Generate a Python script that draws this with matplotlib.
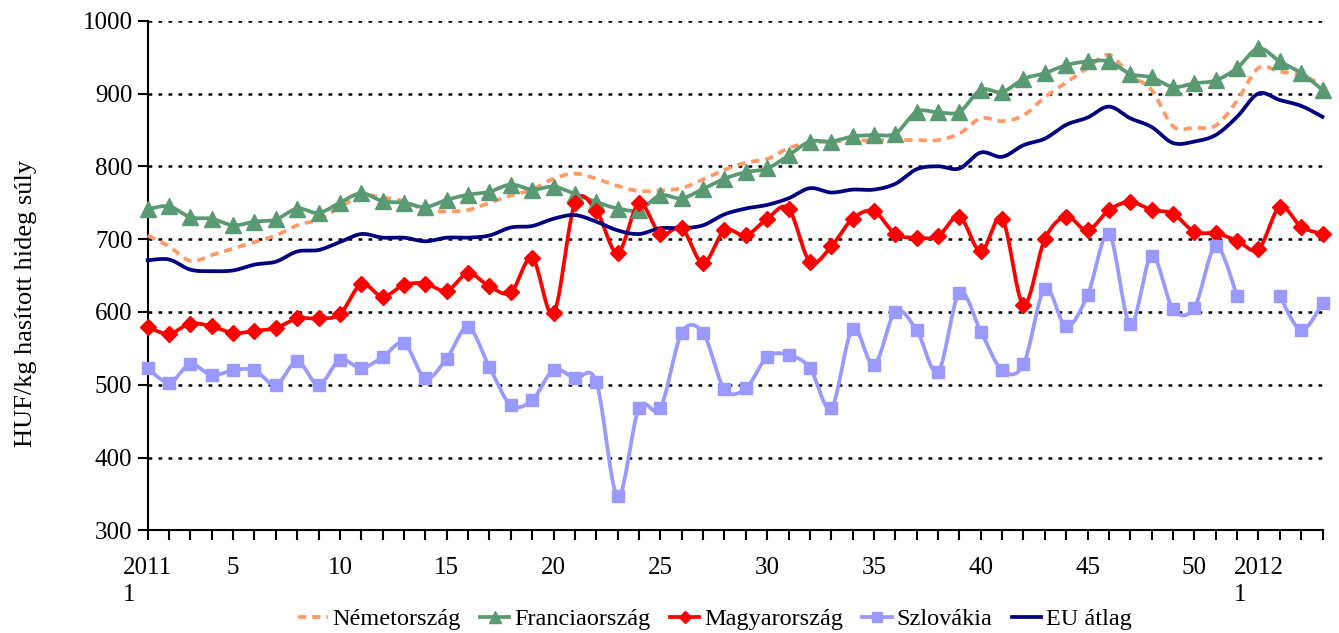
import numpy as np
import matplotlib
matplotlib.use('Agg')
import matplotlib.pyplot as plt
from matplotlib.lines import Line2D

plt.rcParams['font.family'] = ['Liberation Serif', 'DejaVu Serif']

# Hetek: 2011/1 ... 2011/52, 2012/1 ... 2012/4
weeks = [f"2011/{w}" for w in range(1, 53)] + [f"2012/{w}" for w in range(1, 5)]
tick_labels = {0: "2011\n1", 4: "5", 9: "10", 14: "15", 19: "20", 24: "25",
               29: "30", 34: "35", 39: "40", 44: "45", 49: "50", 52: "2012\n1"}

nemet = [705, 690, 670, 678, 687, 696, 705, 719, 727, 744,
         760, 757, 752, 740, 738, 740, 750, 760, 768, 783,
         790, 783, 773, 766, 767, 770, 782, 795, 805, 810,
         825, 832, 834, 835, 836, 836, 836, 836, 845, 866,
         862, 870, 895, 915, 935, 953, 925, 905, 855, 853,
         856, 890, 935, 930, 925, 912]
franc = [741, 745, 730, 728, 719, 724, 727, 742, 736, 750,
         763, 752, 750, 744, 754, 761, 765, 775, 768, 772,
         762, 751, 742, 740, 760, 756, 769, 783, 792, 797,
         815, 834, 834, 841, 843, 845, 875, 874, 875, 905,
         902, 920, 928, 939, 944, 944, 927, 922, 909, 914,
         918, 935, 962, 944, 928, 905]
magyar = [579, 570, 584, 580, 571, 574, 578, 591, 591, 597,
          638, 621, 637, 639, 629, 653, 635, 627, 674, 598,
          749, 739, 681, 749, 707, 715, 667, 712, 705, 728,
          742, 669, 690, 728, 738, 707, 702, 704, 731, 683,
          728, 610, 700, 731, 712, 740, 751, 740, 735, 710,
          708, 698, 686, 744, 717, 707]
szlovak = [523, 503, 528, 513, 520, 520, 500, 532, 500, 534,
           523, 538, 557, 509, 536, 579, 524, 472, 479, 520,
           509, 504, 347, 468, 468, 571, 571, 494, 495, 538,
           541, 523, 468, 577, 527, 600, 575, 518, 626, 573,
           520, 528, 632, 580, 623, 707, 583, 677, 604, 606,
           690, 622, np.nan, 622, 575, 612]
eu = [671, 672, 658, 656, 657, 665, 669, 683, 685, 696,
      707, 702, 702, 697, 702, 702, 705, 716, 718, 728,
      733, 724, 712, 707, 715, 715, 719, 734, 742, 747,
      756, 770, 764, 768, 768, 776, 796, 800, 797, 819,
      813, 829, 838, 857, 867, 882, 866, 854, 832, 834,
      843, 868, 900, 891, 883, 868]


def smooth(x, y, n=20):
    """Excel-szerű simított vonal (Catmull-Rom), NaN-nál megszakítva"""
    x = np.asarray(x, float)
    y = np.asarray(y, float)
    xs, ys = [], []
    idx = np.where(~np.isnan(y))[0]
    # folytonos szakaszok
    runs = np.split(idx, np.where(np.diff(idx) != 1)[0] + 1)
    for run in runs:
        if len(run) < 2:
            continue
        px, py = x[run], y[run]
        m = len(px)
        for i in range(m - 1):
            i0, i3 = max(i - 1, 0), min(i + 2, m - 1)
            c1x = px[i] + (px[i + 1] - px[i0]) / 6
            c1y = py[i] + (py[i + 1] - py[i0]) / 6
            c2x = px[i + 1] - (px[i3] - px[i]) / 6
            c2y = py[i + 1] - (py[i3] - py[i]) / 6
            t = np.linspace(0, 1, n, endpoint=(i == m - 2))
            b0, b1, b2, b3 = (1 - t) ** 3, 3 * (1 - t) ** 2 * t, 3 * (1 - t) * t ** 2, t ** 3
            xs.extend(b0 * px[i] + b1 * c1x + b2 * c2x + b3 * px[i + 1])
            ys.extend(b0 * py[i] + b1 * c1y + b2 * c2y + b3 * py[i + 1])
        xs.append(np.nan)
        ys.append(np.nan)
    return np.array(xs), np.array(ys)


x = np.arange(len(weeks))

fig = plt.figure(figsize=(13.39, 6.33), dpi=100)
ax = fig.add_axes([0.1103, 0.1622, 0.8774, 0.8051])

series = [
    ("Németország", nemet, "#FF9966", None, 0, (0, (2.2, 1.6))),
    ("Franciaország", franc, "#5A9A72", "^", 11, "-"),
    ("Magyarország", magyar, "#FF0000", "D", 8, "-"),
    ("Szlovákia", szlovak, "#9999FF", "s", 9, "-"),
    ("EU átlag", eu, "#000080", None, 0, "-"),
]

handles = []
for name, vals, col, mk, ms, ls in series:
    sx, sy = smooth(x, vals)
    ax.plot(sx, sy, color=col, lw=2.7, ls=ls, clip_on=False, zorder=3)
    if mk:
        ax.plot(x, vals, ls='none', marker=mk, ms=ms, color=col,
                clip_on=False, zorder=4)
    handles.append(Line2D([], [], color=col, lw=2.7, ls=ls, marker=mk,
                          ms=ms * 0.8 if mk else 0))

ax.set_xlim(0, len(weeks) - 1)
ax.set_ylim(300, 1000)
ax.set_yticks(range(300, 1001, 100))
ax.set_xticks(x)
ax.set_xticklabels([tick_labels.get(i, "") for i in x], multialignment='left',
                   linespacing=1.3)
ax.tick_params(axis='both', labelsize=18, direction='out', length=7, width=1.5, color='black')
ax.tick_params(axis='x', pad=12)
ax.tick_params(axis='y', pad=4)

ax.yaxis.grid(True, color='black', ls=(0, (1.5, 2.5)), lw=1.8)
ax.set_axisbelow(True)
for s in ['top', 'right']:
    ax.spines[s].set_visible(False)
for s in ['left', 'bottom']:
    ax.spines[s].set_linewidth(1.5)

fig.text(26 / 1339, 1 - 303 / 633, "HUF/kg hasított hideg súly", rotation=90,
         ha='center', va='center', fontsize=19)

fig.legend(handles, [s[0] for s in series], loc='center', ncol=5,
           bbox_to_anchor=(0.534, 1 - 619 / 633), frameon=False, fontsize=17.5,
           handlelength=1.2, handletextpad=0.2, columnspacing=0.8)

plt.savefig('out.png', dpi=100)
